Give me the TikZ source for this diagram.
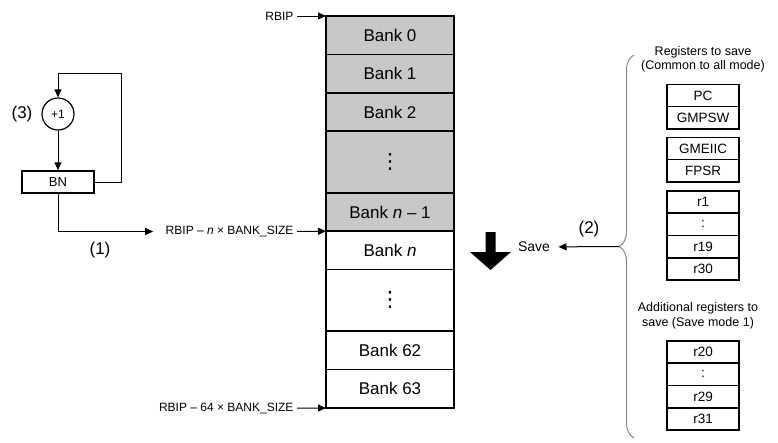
\documentclass[tikz,border=0pt]{standalone}
\usepackage{fontspec}
\setmainfont{Liberation Sans}
\newfontfamily\dotsfont{DejaVu Sans}
\usepackage{xcolor}
\usetikzlibrary{arrows.meta,positioning,calc,decorations.pathreplacing}
\definecolor{bankgray}{RGB}{200,200,200}
\definecolor{bracegray}{RGB}{135,135,135}
\newcommand{\bankdots}{{\dotsfont\fontsize{21}{24}\selectfont ⋮}}

\begin{document}
\begin{tikzpicture}[
  x=1pt,y=-1pt,
  >={Triangle[length=8pt,width=7pt]},
  font=\fontsize{12}{14}\selectfont,
  bank/.style={draw, line width=1.5pt, minimum width=128pt, minimum height=38.4pt, inner sep=0pt, outer sep=0pt, font=\fontsize{17}{20}\selectfont},
  used/.style={bank, fill=bankgray},
  dotsrow/.style={minimum height=61.6pt},
  reg/.style={draw, line width=1.6pt, minimum width=72pt, minimum height=22.3pt, inner sep=0pt, outer sep=0pt, font=\fontsize{13.5}{15}\selectfont},
  numtag/.style={font=\fontsize{17}{20}\selectfont},
  addr/.style={anchor=east},
  arrow/.style={->, line width=1pt}
]
\path[use as bounding box, fill=white] (0,0) rectangle (778,442);

% Bank stack.
\node[used, anchor=north] (b0) at (390,16) {Bank 0};
\node[used, below=0pt of b0] (b1) {Bank 1};
\node[used, below=0pt of b1] (b2) {Bank 2};
\node[used, dotsrow, below=0pt of b2] (bdotsa) {\bankdots};
\node[used, below=0pt of bdotsa] (bn1) {Bank \textit{n} – 1};
\node[bank, below=0pt of bn1] (bn) {Bank \textit{n}};
\node[bank, dotsrow, below=0pt of bn] (bdotsb) {\bankdots};
\node[bank, below=0pt of bdotsb] (b62) {Bank 62};
\node[bank, below=0pt of b62] (b63) {Bank 63};

% Addresses.
\node[addr] (rbip) at (297,16) {RBIP};
\node[addr] (rbipn) at (297,231.5) {RBIP – \textit{n} × BANK\_SIZE};
\node[addr] (rbip64) at (297,408) {RBIP – 64 × BANK\_SIZE};
\draw[arrow] (rbip.east) -- (b0.north west);
\draw[arrow] (rbipn.east) -- (bn.north west);
\draw[arrow] (rbip64.east) -- (b63.south west);

% Bank number counter.
\node[draw, circle, line width=1.2pt, minimum size=32pt, inner sep=0pt] (inc) at (58,114) {+1};
\node[numtag] (tagc) at (22,114) {(3)};
\node[draw, line width=1.5pt, minimum width=72pt, minimum height=22pt, inner sep=0pt, font=\fontsize{13}{15}\selectfont] (bnum) at (58,182) {BN};
\coordinate (loop) at (121,73);
\draw[arrow] (inc) -- (bnum);
\draw[arrow] (bnum.east) -| (loop) -| (inc.north);
\draw[arrow, shorten >=9pt] (bnum.south) |- (rbipn.west);
\node[numtag] (taga) at (100,250) {(1)};

% Save direction.
\fill (485.5,232) -- (495.5,232) -- (495.5,252) -- (511,252) -- (490.5,270) -- (470,252) -- (485.5,252) -- cycle;
\node[font=\fontsize{14}{16}\selectfont] (save) at (534,247) {Save};
\draw[bracegray, line width=1pt, decorate, decoration={brace, amplitude=15pt}] (634,438) -- (634,55);
\coordinate (bracetip) at (619,246.5);
\draw[arrow, shorten >=5pt] (bracetip) -- (save);
\node[numtag] (tagb) at (589,229) {(2)};

% Registers to save.
\node[align=center, font=\fontsize{12.5}{14}\selectfont] (common) at (703,59) {Registers to save\\(Common to all mode)};
\node[reg] (pc) at (703,95.5) {PC};
\node[reg, below=0pt of pc] (gmpsw) {GMPSW};
\node[reg] (gmeiic) at (703,148.5) {GMEIIC};
\node[reg, below=0pt of gmeiic] (fpsr) {FPSR};
\node[reg] (r1) at (703,202) {r1};
\node[reg, below=0pt of r1] (rdotsa) {:};
\node[reg, below=0pt of rdotsa] (r19) {r19};
\node[reg, below=0pt of r19] (r30) {r30};

\node[align=center, font=\fontsize{12.5}{15}\selectfont] (extra) at (698,315.5) {Additional registers to\\save (Save mode 1)};
\node[reg] (r20) at (703,352) {r20};
\node[reg, below=0pt of r20] (rdotsb) {:};
\node[reg, below=0pt of rdotsb] (r29) {r29};
\node[reg, below=0pt of r29] (r31) {r31};
\end{tikzpicture}
\end{document}
